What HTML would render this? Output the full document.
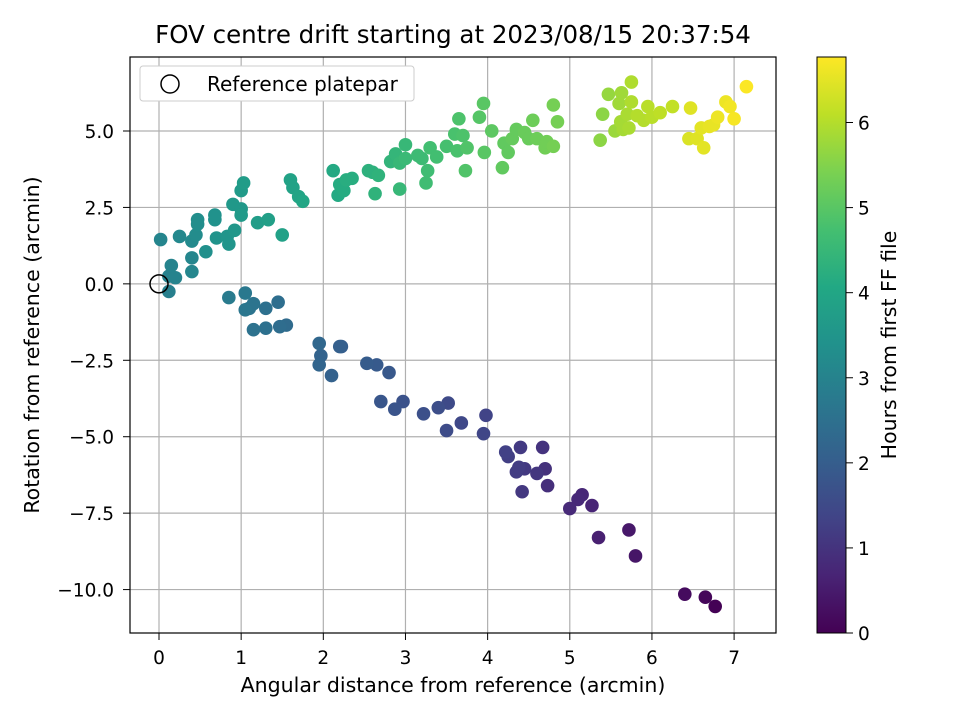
<!DOCTYPE html>
<html><head><meta charset="utf-8"><style>
body{margin:0;background:#fff}
svg{display:block;font-family:"DejaVu Sans","Liberation Sans",sans-serif}
</style></head><body>
<svg id="c" width="960" height="720" xmlns="http://www.w3.org/2000/svg">
<defs><linearGradient id="vg" x1="0" y1="1" x2="0" y2="0">
<stop offset="0" stop-color="#440154"/><stop offset="0.1" stop-color="#482475"/><stop offset="0.2" stop-color="#414487"/><stop offset="0.3" stop-color="#355f8d"/><stop offset="0.4" stop-color="#2a788e"/><stop offset="0.5" stop-color="#21918c"/><stop offset="0.6" stop-color="#22a884"/><stop offset="0.7" stop-color="#44bf70"/><stop offset="0.8" stop-color="#7ad151"/><stop offset="0.9" stop-color="#bddf26"/><stop offset="1" stop-color="#fde725"/>
</linearGradient></defs>
<text x="453" y="43" text-anchor="middle" font-size="24.5">FOV centre drift starting at 2023/08/15 20:37:54</text>
<g id="grid"></g><g id="pts"></g>
<rect x="130" y="57" width="646" height="576" fill="none" stroke="#000" stroke-width="1.2"/>
<g id="ticks"></g>
<text x="453" y="692" text-anchor="middle" font-size="20.5">Angular distance from reference (arcmin)</text>
<text transform="translate(39,345) rotate(-90)" text-anchor="middle" font-size="20.5">Rotation from reference (arcmin)</text>
<g>
<rect x="140" y="66" width="274" height="35" rx="3" fill="#fff" stroke="#ccc"/>
<circle cx="170" cy="84" r="9" fill="none" stroke="#000" stroke-width="1.5"/>
<text x="207" y="91" font-size="20">Reference platepar</text>
</g>
<rect x="817" y="57" width="29" height="576" fill="url(#vg)" stroke="#000" stroke-width="1"/>
<g id="cb"></g>
<text transform="translate(896,345) rotate(-90)" text-anchor="middle" font-size="20.5">Hours from first FF file</text>
</svg>
<script>
const xs=[6.77,6.65,6.4,5.8,5.72,5.35,5.27,5.15,5.1,5.0,4.73,4.7,4.67,4.6,4.42,4.45,4.4,4.35,4.38,4.25,4.22,3.98,3.95,3.68,3.52,3.5,3.4,3.22,2.97,2.87,2.7,2.8,2.65,2.53,2.22,2.2,2.1,1.97,1.95,1.95,1.55,1.47,1.45,1.3,1.3,1.15,1.15,1.1,1.05,1.05,0.85,
0.12,0.12,0.2,0.15,0.02,0.4,0.4,0.25,0.4,0.45,0.47,0.47,0.57,0.68,0.68,0.7,0.83,0.85,0.92,0.9,1.0,1.0,1.0,1.03,1.2,1.33,1.5,1.6,1.63,1.7,1.75,2.12,2.18,2.2,2.25,2.28,2.35,2.55,2.6,2.63,2.67,2.82,2.88,2.93,2.93,3.0,3.0,3.15,3.2,3.25,3.27,3.3,3.38,3.5,3.6,3.63,3.65,3.7,3.73,3.75,3.9,3.96,3.95,4.05,4.18,4.2,4.25,4.3,4.35,4.45,4.5,4.55,4.6,4.7,4.72,4.8,4.8,4.85,
5.37,5.4,5.47,5.55,5.6,5.63,5.62,5.65,5.7,5.72,5.75,5.75,5.82,5.9,5.95,6.0,6.1,6.25,
6.45,6.47,6.55,6.6,6.63,6.7,6.75,6.8,6.9,6.95,7.0,7.15];
const ys=[-10.55,-10.25,-10.15,-8.9,-8.05,-8.3,-7.25,-6.9,-7.05,-7.35,-6.6,-6.05,-5.35,-6.2,-6.8,-6.05,-5.35,-6.15,-6.0,-5.65,-5.5,-4.3,-4.9,-4.55,-3.9,-4.8,-4.05,-4.25,-3.85,-4.1,-3.85,-2.9,-2.65,-2.6,-2.05,-2.05,-3.0,-2.35,-2.65,-1.95,-1.35,-1.4,-0.6,-1.45,-0.8,-1.5,-0.65,-0.8,-0.85,-0.3,-0.45,
-0.25,0.25,0.2,0.6,1.45,0.4,0.85,1.55,1.4,1.6,1.95,2.1,1.05,2.1,2.25,1.5,1.55,1.3,1.75,2.6,2.45,2.25,3.05,3.3,2.0,2.1,1.6,3.4,3.15,2.85,2.7,3.7,2.9,3.25,3.05,3.4,3.45,3.7,3.65,2.95,3.55,4.0,4.25,3.1,3.95,4.55,4.1,4.2,4.1,3.3,3.7,4.45,4.15,4.5,4.9,4.35,5.4,4.85,3.7,4.45,5.45,4.3,5.9,5.0,3.8,4.6,4.3,4.75,5.05,4.95,4.75,5.35,4.75,4.45,4.65,5.85,4.5,5.3,
4.7,5.55,6.2,5.0,5.9,6.25,5.3,5.05,5.55,5.1,6.6,5.95,5.5,5.35,5.8,5.45,5.6,5.8,
4.75,5.75,4.75,5.1,4.45,5.15,5.2,5.45,5.95,5.8,5.4,6.45];
const hours=[0.02,0.1,0.2,0.4,0.45,0.6,0.7,0.75,0.78,0.8,0.9,0.95,1.0,1.05,1.1,1.12,1.15,1.2,1.2,1.25,1.3,1.35,1.4,1.45,1.5,1.55,1.6,1.65,1.7,1.75,1.8,1.85,1.9,1.95,2.0,2.05,2.1,2.15,2.2,2.25,2.35,2.4,2.45,2.5,2.5,2.55,2.6,2.6,2.65,2.7,2.8,
2.9,2.95,3.0,3.0,3.05,3.1,3.1,3.15,3.2,3.25,3.3,3.3,3.35,3.4,3.4,3.45,3.5,3.5,3.55,3.6,3.6,3.65,3.65,3.7,3.75,3.8,3.85,3.9,3.9,3.95,4.0,4.1,4.1,4.15,4.15,4.2,4.2,4.3,4.3,4.35,4.35,4.4,4.45,4.5,4.5,4.5,4.55,4.6,4.6,4.65,4.65,4.7,4.7,4.75,4.8,4.8,4.85,4.85,4.9,4.9,4.95,5.0,5.0,5.05,5.1,5.1,5.1,5.15,5.15,5.2,5.2,5.25,5.25,5.3,5.3,5.35,5.35,5.35,
5.6,5.6,5.7,5.75,5.8,5.8,5.85,5.85,5.9,5.9,5.95,5.95,6.0,6.0,6.05,6.05,6.1,6.15,
6.4,6.45,6.45,6.5,6.5,6.55,6.55,6.6,6.6,6.65,6.7,6.75];
const xTicks=[0,1,2,3,4,5,6,7];
const yTicks=[5,2.5,0,-2.5,-5,-7.5,-10];
const yTickLabels=["5.0","2.5","0.0","\u22122.5","\u22125.0","\u22127.5","\u221210.0"];
const cbTicks=[0,1,2,3,4,5,6];
const xMin=-0.353,xMax=7.51,yMin=-11.42,yMax=7.42,hMax=6.77;
const L=130,R=776,T=57,B=633;
const sx=v=>L+(v-xMin)/(xMax-xMin)*(R-L);
const sy=v=>B-(v-yMin)/(yMax-yMin)*(B-T);
const sc=v=>633-v/hMax*576;
const vir=["#440154","#482475","#414487","#355f8d","#2a788e","#21918c","#22a884","#44bf70","#7ad151","#bddf26","#fde725"];
function col(h){let t=Math.max(0,Math.min(1,h/hMax))*10;let i=Math.min(9,Math.floor(t)),f=t-i;
const a=vir[i],b=vir[i+1];const p=(s,k)=>parseInt(s.substr(k,2),16);
return "rgb("+[1,3,5].map(k=>Math.round(p(a,k)+(p(b,k)-p(a,k))*f)).join(",")+")";}
const NS="http://www.w3.org/2000/svg";
function mk(tag,at,par){const e=document.createElementNS(NS,tag);for(const k in at)e.setAttribute(k,at[k]);document.getElementById(par).appendChild(e);return e;}
xTicks.forEach(v=>{
const g=mk("line",{x1:sx(v),x2:sx(v),y1:T,y2:B,stroke:"#b0b0b0","stroke-width":1.2},"grid");


const t=mk("line",{x1:sx(v),x2:sx(v),y1:B,y2:B+7,stroke:"#000"},"ticks");


const l=mk("text",{x:sx(v),y:B+31,"text-anchor":"middle","font-size":18.5},"ticks");l.textContent=v;


});
yTicks.forEach((v,i)=>{
const g=mk("line",{x1:L,x2:R,y1:sy(v),y2:sy(v),stroke:"#b0b0b0","stroke-width":1.2},"grid");


const t=mk("line",{x1:L-7,x2:L,y1:sy(v),y2:sy(v),stroke:"#000"},"ticks");


const l=mk("text",{x:L-16,y:sy(v)+7,"text-anchor":"end","font-size":18.5},"ticks");l.textContent=yTickLabels[i];


});
xs.forEach((x,i)=>{
const c=mk("circle",{cx:sx(x),cy:sy(ys[i]),r:6.8,fill:col(hours[i])},"pts");


});
const ref=mk("circle",{cx:sx(0),cy:sy(0),r:9,fill:"none",stroke:"#000","stroke-width":1.5},"pts");


cbTicks.forEach(v=>{
const t=mk("line",{x1:846,x2:853,y1:sc(v),y2:sc(v),stroke:"#000"},"cb");


const l=mk("text",{x:858,y:sc(v)+7,"font-size":18.5},"cb");l.textContent=v;


});
</script>
</body></html>
